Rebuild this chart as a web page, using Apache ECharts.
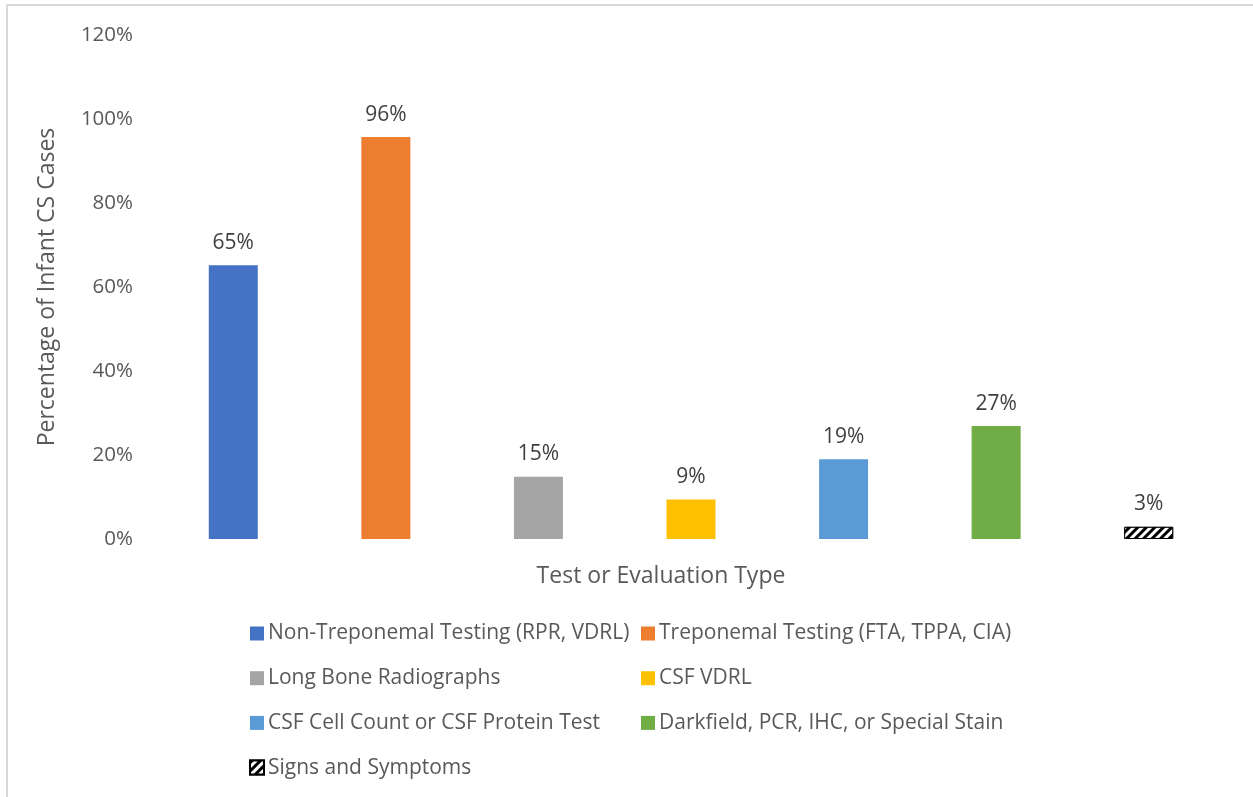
<!DOCTYPE html>
<html>
<head>
<meta charset="utf-8">
<script src="https://cdn.jsdelivr.net/npm/echarts@6/dist/echarts.min.js"></script>
<style>
  body { margin: 0; background: #fff; }
  #main { width: 1253px; height: 797px; }
  /* 图表外框 */
  #frame { position: absolute; left: 6px; top: 4px; width: 1260px; height: 810px;
    border-left: 2px solid #d9d9d9; border-top: 2px solid #d9d9d9; pointer-events: none; }
</style>
</head>
<body>
<div id="main"></div>
<div id="frame"></div>
<script>
// 数据
var seriesNames = [
  'Non-Treponemal Testing (RPR, VDRL)',
  'Treponemal Testing (FTA, TPPA, CIA)',
  'Long Bone Radiographs',
  'CSF VDRL',
  'CSF Cell Count or CSF Protein Test',
  'Darkfield, PCR, IHC, or Special Stain',
  'Signs and Symptoms'
];
var seriesValues = [0.652, 0.957, 0.148, 0.094, 0.19, 0.269, 0.029];
var seriesColors = ['#4472c4', '#ed7d31', '#a5a5a5', '#ffc000', '#5b9bd5', '#70ad47', '#ffffff'];
var yTicks = [0, 0.2, 0.4, 0.6, 0.8, 1.0, 1.2];

var textColor = '#595959';
var myChart = echarts.init(document.getElementById('main'));

var series = seriesNames.map(function (name, idx) {
  var data = seriesNames.map(function (n, j) { return j === idx ? seriesValues[idx] : null });
  var obj = {
    name: name,
    type: 'bar',
    stack: 'all',
    barWidth: 49,
    data: data,
    itemStyle: { color: seriesColors[idx] },
    label: {
      show: true,
      position: 'top',
      distance: 12,
      color: '#404040',
      fontSize: 21,
      fontFamily: 'Open Sans',
      formatter: function (p) { return Math.round(p.value * 100) + '%' }
    }
  };
  // 斜线填充
  if (idx === 6) {
    obj.itemStyle = {
      color: '#ffffff',
      borderColor: '#000',
      borderWidth: 1,
      decal: {
        symbol: 'rect',
        symbolSize: 1,
        dashArrayX: [1, 0],
        dashArrayY: [3, 3],
        rotation: -Math.PI / 4,
        color: '#000',
        backgroundColor: '#fff'
      }
    };
  }
  return obj;
});

var legendStyle = {
  orient: 'vertical',
  icon: 'rect',
  itemWidth: 14,
  itemHeight: 14,
  itemGap: 23.7,
  top: 623,
  padding: 0,
  textStyle: { color: textColor, fontSize: 21, fontFamily: 'Open Sans', padding: [0, 0, 0, -1] },
  selectedMode: false
};

var option = {
  animation: false,
  grid: { left: 157, right: 28, top: 35, bottom: 258 },
  xAxis: {
    type: 'category',
    data: seriesNames,
    axisLine: { show: false },
    axisTick: { show: false },
    axisLabel: { show: false },
    name: 'Test or Evaluation Type',
    nameLocation: 'middle',
    nameGap: 26,
    nameTextStyle: { color: textColor, fontSize: 23, fontFamily: 'Open Sans', padding: [0, 60, 0, 0] }
  },
  yAxis: {
    type: 'value',
    min: 0,
    max: 1.2,
    interval: 0.2,
    splitLine: { show: false },
    axisLine: { show: false },
    axisTick: { show: false },
    axisLabel: {
      color: textColor,
      fontSize: 20.5,
      fontFamily: 'Open Sans',
      margin: 24,
      formatter: function (v) { return Math.round(v * 100) + '%' }
    },
    name: 'Percentage of Infant CS Cases',
    nameLocation: 'middle',
    nameGap: 98,
    nameTextStyle: { color: textColor, fontSize: 23, fontFamily: 'Open Sans' }
  },
  legend: [
    Object.assign({}, legendStyle, { left: 249, data: [seriesNames[0], seriesNames[2], seriesNames[4], seriesNames[6]] }),
    Object.assign({}, legendStyle, { left: 641, data: [seriesNames[1], seriesNames[3], seriesNames[5]] })
  ],
  series: series
};
myChart.setOption(option);
</script>
</body>
</html>
